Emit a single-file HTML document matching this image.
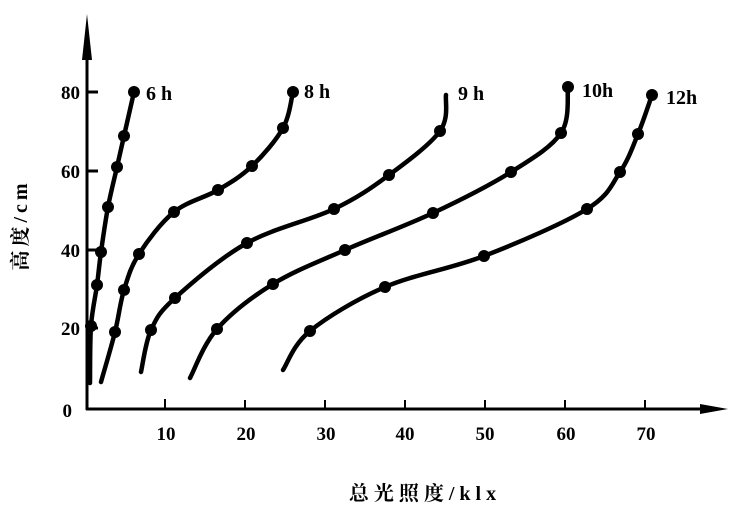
<!DOCTYPE html>
<html><head><meta charset="utf-8"><style>
body{margin:0;background:#fff;width:750px;height:509px;overflow:hidden}
svg text{font-family:"Liberation Serif","Noto Serif CJK SC",serif;font-weight:bold;fill:#000}
</style></head><body>
<svg id="s" width="750" height="509" viewBox="0 0 750 509" xmlns="http://www.w3.org/2000/svg">
<g stroke="#000" stroke-width="3" fill="none">
<line x1="87" y1="50" x2="87" y2="410"/>
<line x1="86" y1="409" x2="715" y2="409"/>
<line x1="87" y1="92" x2="98" y2="92"/><line x1="87" y1="171" x2="98" y2="171"/>
<line x1="87" y1="250" x2="98" y2="250"/><line x1="87" y1="328" x2="98" y2="328"/>
<g stroke-width="2"><line x1="165" y1="409" x2="165" y2="399"/><line x1="245" y1="409" x2="245" y2="400"/>
<line x1="325" y1="409" x2="325" y2="400"/><line x1="405" y1="409" x2="405" y2="400"/>
<line x1="485" y1="409" x2="485" y2="400"/><line x1="565" y1="409" x2="565" y2="400"/>
<line x1="645" y1="409" x2="645" y2="400"/></g>
</g>
<polygon points="87,14 82,60 92,60" fill="#000"/>
<polygon points="728,409 700,404 700,414" fill="#000"/>
<g font-size="19" text-anchor="end">
<text x="80" y="99">80</text><text x="80" y="178">60</text><text x="80" y="257">40</text>
<text x="80" y="335">20</text><text x="72" y="417">0</text></g>
<g font-size="19" text-anchor="middle">
<text x="166" y="440">10</text><text x="246" y="440">20</text><text x="326" y="440">30</text>
<text x="405" y="440">40</text><text x="485" y="440">50</text><text x="566" y="440">60</text><text x="646" y="440">70</text></g>
<g font-size="20">
<text x="146" y="100">6 h</text><text x="304" y="98">8 h</text><text x="458" y="100">9 h</text>
<text x="582" y="97">10h</text><text x="666" y="104">12h</text></g>
<text x="425" y="500" font-size="20" text-anchor="middle" letter-spacing="5">总光照度/klx</text>
<text transform="translate(27,225) rotate(-90)" font-size="20" text-anchor="middle" letter-spacing="4">高度/cm</text>
<g id="curves"></g>
</svg>
<script>
var C=[
{p:[[90,383],[91,326],[97,285],[101,252],[108,207],[117,167],[124,136],[134,92]],d:[1,2,3,4,5,6,7]},
{p:[[101,382],[115,332],[124,290],[139,254],[174,212],[218,190],[252,166],[283,128],[293,92]],d:[1,2,3,4,5,6,7,8]},
{p:[[141,372],[151,330],[175,298],[247,243],[334,209],[389,175],[440,131],[446,95]],d:[1,2,3,4,5,6]},
{p:[[190,378],[217,329],[273,284],[345,250],[433,213],[511,172],[561,133],[568,87]],d:[1,2,3,4,5,6,7]},
{p:[[283,370],[310,331],[385,287],[484,256],[587,209],[620,172],[638,134],[652,95]],d:[1,2,3,4,5,6,7]}];
var g=document.getElementById('curves'),ns='http://www.w3.org/2000/svg';
C.forEach(function(c){var p=c.p,s='M'+p[0];
for(var i=0;i<p.length-1;i++){var a=p[i-1]||p[i],b=p[i],e=p[i+1],f=p[i+2]||e;
s+=' C'+(b[0]+(e[0]-a[0])/6)+','+(b[1]+(e[1]-a[1])/6)+' '+(e[0]-(f[0]-b[0])/6)+','+(e[1]-(f[1]-b[1])/6)+' '+e;}
var q=document.createElementNS(ns,'path');q.setAttribute('d',s);q.setAttribute('stroke','#000');
q.setAttribute('stroke-width','4.5');q.setAttribute('fill','none');q.setAttribute('stroke-linecap','round');g.appendChild(q);
c.d.forEach(function(i){var k=document.createElementNS(ns,'circle');k.setAttribute('cx',p[i][0]);k.setAttribute('cy',p[i][1]);k.setAttribute('r','6');g.appendChild(k);});});
</script>
</body></html>
